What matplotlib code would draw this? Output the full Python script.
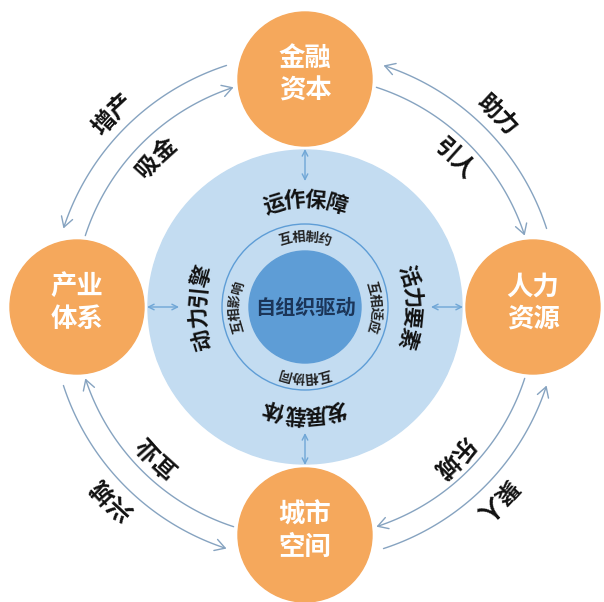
"""
Self-organising drive diagram: core, ring and four orange nodes.
"""

import numpy as np
import matplotlib.pyplot as plt
from matplotlib.patches import Circle, FancyArrowPatch
from matplotlib.path import Path

plt.rcParams['font.family'] = ['Noto Sans CJK SC', 'DejaVu Sans']

# four nodes round the ring: top, right, bottom, left
node_names = ['金融\n资本', '人力\n资源', '城市\n空间', '产业\n体系']
node_angles = [90, 0, 270, 180]

# words on the blue ring
ring_angles = [90, 0, 270, 180]
ring_outer = ['运作保障', '活力要素', '发展载体', '动力引擎']
ring_inner = ['互相制约', '互相适应', '互相协同', '互相影响']
core_label = '自组织驱动'

# words on the arcs between nodes
arc_angles = [45, 315, 225, 135]
arc_outer = ['助力', '聚人', '兴城', '增产']
arc_inner = ['引人', '乐城', '宜业', '吸金']

orange = '#F5A85C'
light_blue = '#C3DCF1'
mid_blue = '#5E9DD6'
line_col = '#86A3C0'

W, H = 604, 602
cx, cy = 305, H - 307


def polar(r, deg):
    a = np.radians(deg)
    return cx + r * np.cos(a), cy + r * np.sin(a)


def curved_text(ax, s, theta_c, r, spacing, **kw):
    # characters follow the circle clockwise, tops pointing outwards
    step = np.degrees(spacing / r)
    n = len(s)
    for i, ch in enumerate(s):
        th = theta_c - (i - (n - 1) / 2) * step
        x, y = polar(r, th)
        ax.text(x, y, ch, rotation=th - 90, rotation_mode='anchor',
                ha='center', va='center', **kw)


fig = plt.figure(figsize=(W / 100, H / 100), dpi=100)
ax = fig.add_axes([0, 0, 1, 1])
ax.set_xlim(0, W)
ax.set_ylim(0, H)
ax.set_aspect('equal')
ax.axis('off')

# blue centre
ax.add_patch(Circle((cx, cy), 157, color=light_blue, zorder=1))
ax.add_patch(Circle((cx, cy), 83, fill=False, ec=mid_blue, lw=1, zorder=2))
ax.add_patch(Circle((cx, cy), 56, color=mid_blue, zorder=2))
ax.text(cx, cy, core_label, ha='center', va='center', fontsize=14.5,
        color='#1B3558', fontweight='bold', zorder=3)

for ang, s_out, s_in in zip(ring_angles, ring_outer, ring_inner):
    curved_text(ax, s_out, ang, 107, 21, fontsize=15.5, fontweight='bold',
                color='#111111', zorder=3)
    curved_text(ax, s_in, ang, 70, 13, fontsize=9.5, fontweight='bold',
                color='#222222', zorder=3)

# orange nodes
for ang, name in zip(node_angles, node_names):
    x, y = polar(228, ang)
    ax.add_patch(Circle((x, y), 67, color=orange, zorder=2))
    ax.text(x, y + 4, name, ha='center', va='center', fontsize=19,
            color='white', fontweight='bold', linespacing=1.25, zorder=3)
    # double arrow from blue ring towards the node
    x0, y0 = polar(158, ang)
    x1, y1 = polar(126, ang)
    ax.annotate('', xy=(x0, y0), xytext=(x1, y1),
                arrowprops=dict(arrowstyle='<->', color='#6FA6D6', lw=1,
                                shrinkA=0, shrinkB=0), zorder=3)

# arcs between nodes
for ang, s_out, s_in in zip(arc_angles, arc_outer, arc_inner):
    th = np.linspace(ang - 27, ang + 27, 60)
    for r, seq in ((254, th), (231, th[::-1])):
        pts = np.column_stack(polar(r, seq))
        arrow = FancyArrowPatch(path=Path(pts),
                                arrowstyle='->,head_length=0.6,head_width=0.35',
                                mutation_scale=12, color=line_col, lw=1,
                                shrinkA=0, shrinkB=0, zorder=2)
        ax.add_patch(arrow)
    curved_text(ax, s_out, ang, 272, 23, fontsize=17, fontweight='bold',
                color='#111111', zorder=3)
    curved_text(ax, s_in, ang, 211, 23, fontsize=17, fontweight='bold',
                color='#111111', zorder=3)

fig.savefig('out.png', dpi=100)
